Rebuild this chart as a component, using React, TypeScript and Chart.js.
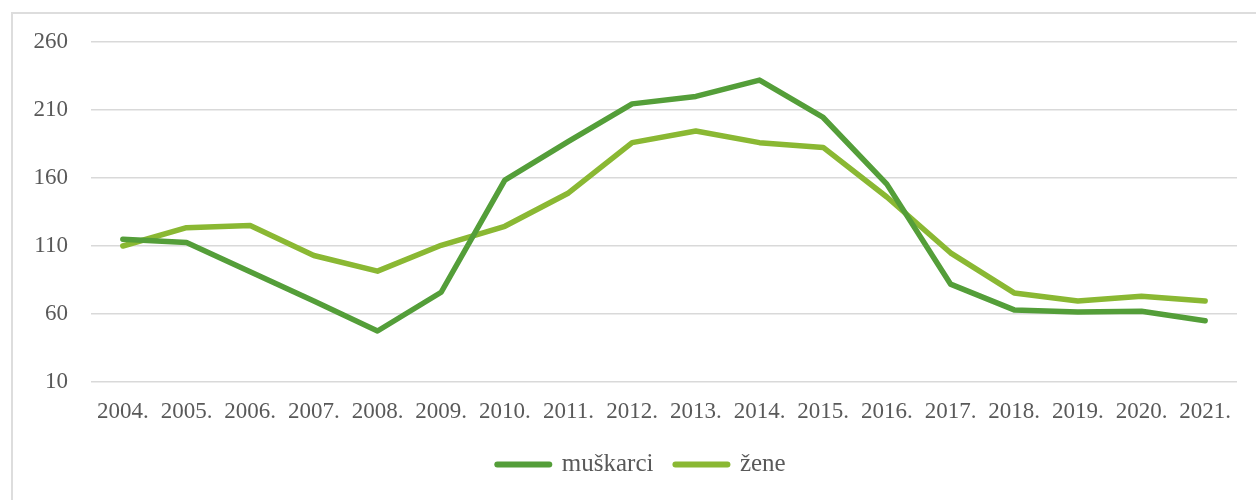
import React, { useEffect, useRef } from "react";
import { Chart, registerables } from "chart.js";

Chart.register(...registerables);

const years = [
  "2004.", "2005.", "2006.", "2007.", "2008.", "2009.", "2010.", "2011.", "2012.",
  "2013.", "2014.", "2015.", "2016.", "2017.", "2018.", "2019.", "2020.", "2021.",
];
const muskarci = [115, 112.5, 91, 69.5, 47.5, 76, 158.5, 187, 214.5, 220, 232, 204.5, 155.5, 82, 63, 61.5, 62, 55];
const zene = [110, 123.5, 125, 103, 91.5, 110.5, 124.5, 149, 186, 194.5, 186, 182.5, 146, 105, 75.5, 69.5, 73, 69.5];
const yMin = 10;
const yMax = 260;
const yStep = 50;

const DARK = "#549E39";
const LIGHT = "#8AB833";
const FONT = "'Liberation Serif', 'DejaVu Serif', serif";

const shiftLegend = {
  id: "shiftLegend",
  afterLayout(chart: any) {
    const lg = chart.legend;
    if (lg) {
      lg.left += 23;
      lg.right += 23;
    }
  },
};

export default function App() {
  const ref = useRef<HTMLCanvasElement>(null);
  useEffect(() => {
    const chart = new Chart(ref.current!, {
      type: "line",
      data: {
        labels: years,
        datasets: [
          {
            label: "muškarci",
            data: muskarci,
            borderColor: DARK,
            backgroundColor: DARK,
            borderWidth: 5.5,
            pointRadius: 0,
            tension: 0,
            borderCapStyle: "round",
            borderJoinStyle: "round",
          },
          {
            label: "žene",
            data: zene,
            borderColor: LIGHT,
            backgroundColor: LIGHT,
            borderWidth: 5.5,
            pointRadius: 0,
            tension: 0,
            borderCapStyle: "round",
            borderJoinStyle: "round",
          },
        ],
      },
      plugins: [shiftLegend],
      options: {
        responsive: false,
        animation: false,
        layout: { padding: { left: 0, right: 19, top: 42, bottom: 13 } },
        plugins: {
          tooltip: { enabled: false },
          legend: {
            position: "bottom",
            labels: {
              usePointStyle: true,
              pointStyle: "line",
              pointStyleWidth: 52,
              boxHeight: 24,
              padding: 22,
              color: "#595959",
              font: { family: FONT, size: 25 },
              generateLabels: (c: any) =>
                c.data.datasets.map((d: any, i: number) => ({
                  text: d.label,
                  fillStyle: d.borderColor,
                  strokeStyle: d.borderColor,
                  lineWidth: 6,
                  lineCap: "round",
                  pointStyle: "line",
                  hidden: false,
                  datasetIndex: i,
                  fontColor: "#595959",
                })),
            },
          },
        },
        scales: {
          x: {
            offset: true,
            grid: { display: false },
            border: { display: false },
            ticks: {
              color: "#595959",
              font: { family: FONT, size: 23 },
              padding: 8,
              maxRotation: 0,
              autoSkip: false,
            },
            afterFit: (s: any) => {
              s.height = 48;
            },
          },
          y: {
            min: yMin,
            max: yMax,
            border: { display: false },
            grid: { color: "#D9D9D9", lineWidth: 1.5, drawTicks: false },
            ticks: {
              stepSize: yStep,
              color: "#595959",
              font: { family: FONT, size: 23 },
              padding: 23,
            },
            afterFit: (s: any) => {
              s.width = 91;
            },
          },
        },
      },
    });
    return () => chart.destroy();
  }, []);
  return (
    <div style={{ position: "absolute", left: 0, top: 0, width: 1256, height: 500, overflow: "hidden", background: "#fff" }}>
      <div style={{ position: "absolute", left: 11, top: 12, width: 1300, height: 600, border: "2px solid #DDDDDD" }} />
      <canvas ref={ref} width={1256} height={500} style={{ position: "absolute", left: 0, top: 0 }} />
    </div>
  );
}
